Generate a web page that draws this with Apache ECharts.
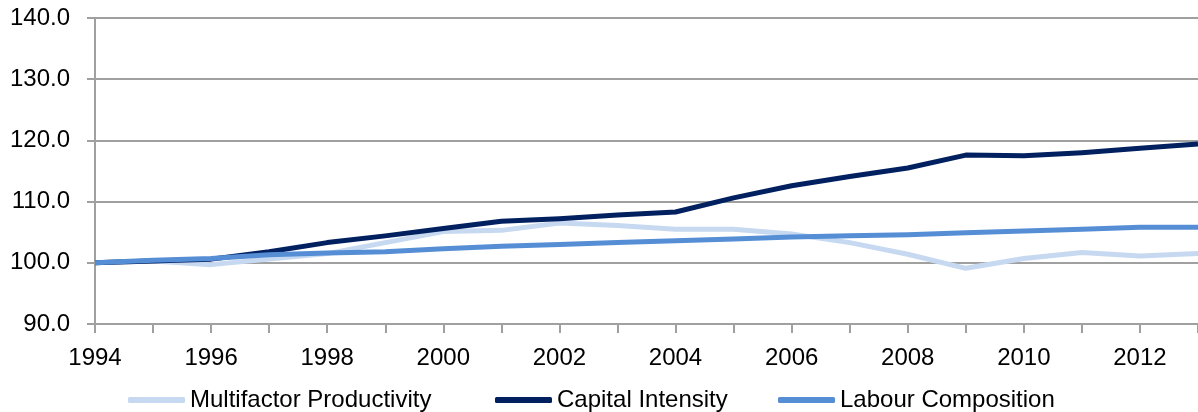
<!DOCTYPE html>
<html>
<head>
<meta charset="utf-8">
<script src="https://cdn.jsdelivr.net/npm/echarts@6/dist/echarts.min.js"></script>
<style>
  html, body { margin: 0; padding: 0; background: #ffffff; }
  #chart { width: 1198px; height: 412px; }
</style>
</head>
<body>
<div id="chart"></div>
<script>
// Index values, 1994 = 100
const years = ['1994','1995','1996','1997','1998','1999','2000','2001','2002','2003',
               '2004','2005','2006','2007','2008','2009','2010','2011','2012','2013'];

const multifactorProductivity = [100.0, 100.3, 99.7, 100.6, 101.5, 103.3, 105.1, 105.3, 106.5, 106.1,
                                 105.5, 105.5, 104.7, 103.3, 101.4, 99.1, 100.7, 101.7, 101.1, 101.5];
const capitalIntensity = [100.0, 100.3, 100.6, 101.8, 103.3, 104.4, 105.6, 106.8, 107.2, 107.8,
                          108.3, 110.6, 112.6, 114.1, 115.5, 117.6, 117.5, 118.0, 118.7, 119.4];
const labourComposition = [100.0, 100.4, 100.7, 101.3, 101.6, 101.8, 102.3, 102.7, 103.0, 103.3,
                           103.6, 103.9, 104.2, 104.4, 104.6, 104.9, 105.2, 105.5, 105.8, 105.8];

const seriesNames = ['Multifactor Productivity', 'Capital Intensity', 'Labour Composition'];
const seriesColors = ['#c6d9f1', '#002060', '#558ed5'];
const seriesData = [multifactorProductivity, capitalIntensity, labourComposition];

const yMin = 90, yMax = 140, yStep = 10;
const font = 'Liberation Sans, Arial, sans-serif';
const axisGray = '#a0a0a0';

// one legend block per series so each key sits at its own x position
const legendLeft = [123, 490, 773];

const chart = echarts.init(document.getElementById('chart'), null, { renderer: 'canvas' });

chart.setOption({
  animation: false,
  backgroundColor: '#ffffff',
  grid: { left: 95, right: 0, top: 18, bottom: 88, containLabel: false },
  legend: seriesNames.map((n, i) => ({
    data: [{ name: n, icon: 'roundRect', itemStyle: { color: seriesColors[i] } }],
    left: legendLeft[i],
    top: 383,
    itemWidth: 57,
    itemHeight: 6,
    textStyle: { fontFamily: font, fontSize: 24, color: '#000000' }
  })),
  xAxis: {
    type: 'category',
    data: years,
    boundaryGap: false,
    axisLine: { lineStyle: { color: axisGray, width: 2 } },
    axisTick: { show: true, interval: 0, length: 9, lineStyle: { color: axisGray, width: 2 } },
    axisLabel: {
      interval: 1,
      margin: 22,
      fontFamily: font,
      fontSize: 24,
      color: '#000000'
    },
    splitLine: { show: false }
  },
  yAxis: {
    type: 'value',
    min: yMin,
    max: yMax,
    interval: yStep,
    axisLine: { show: true, lineStyle: { color: axisGray, width: 2 } },
    axisTick: { show: true, length: 8, lineStyle: { color: axisGray, width: 2 } },
    axisLabel: {
      margin: 25,
      fontFamily: font,
      fontSize: 24,
      color: '#000000',
      formatter: v => v.toFixed(1)
    },
    splitLine: { show: true, lineStyle: { color: axisGray, width: 2 } }
  },
  series: seriesNames.map((name, i) => ({
    name: name,
    type: 'line',
    data: seriesData[i],
    showSymbol: false,
    symbol: 'none',
    clip: false,
    lineStyle: { color: seriesColors[i], width: 5, join: 'round' },
    itemStyle: { color: seriesColors[i] },
    z: 2 + i
  }))
});
</script>
</body>
</html>
